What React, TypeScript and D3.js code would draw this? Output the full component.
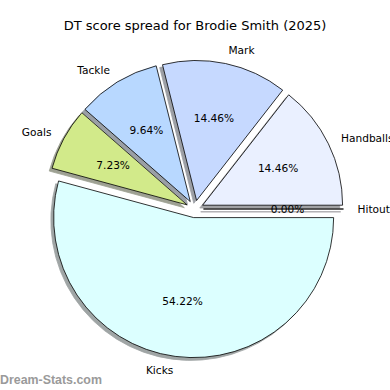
import React from "react";
import * as d3 from "d3";

const categories = ["Hitouts", "Handballs", "Mark", "Tackle", "Goals", "Kicks"];
const values = [0, 12, 12, 8, 6, 45];
const colors = ["#f0e0ff", "#eaf0ff", "#c6d9ff", "#b8d8ff", "#d2ea8a", "#dcffff"];
const title = "DT score spread for Brodie Smith (2025)";
const watermark = "Dream-Stats.com";

const W = 390;
const H = 390;
const CX = 194.8;
const CY = 209;
const R = 140;
const EXPLODE = 0.062;
const SHADOW = 0.02;

function darken(c: string) {
  const rgb = d3.rgb(c);
  return d3.rgb(rgb.r * 0.3, rgb.g * 0.3, rgb.b * 0.3).formatHex();
}

export default function App() {
  const total = d3.sum(values);
  const arc = d3.arc<any>().innerRadius(0).outerRadius(R);
  let cum = 0;
  const slices = values.map((v, i) => {
    const t1 = (cum / total) * 2 * Math.PI;
    cum += v;
    const t2 = (cum / total) * 2 * Math.PI;
    const mid = (t1 + t2) / 2;
    const ox = CX + EXPLODE * R * Math.cos(mid);
    const oy = CY - EXPLODE * R * Math.sin(mid);
    const path = arc({ startAngle: Math.PI / 2 - t2, endAngle: Math.PI / 2 - t1 }) as string;
    const lx = ox + 1.1 * R * Math.cos(mid);
    const ly = oy - 1.1 * R * Math.sin(mid);
    const px = ox + 0.6 * R * Math.cos(mid);
    const py = oy - 0.6 * R * Math.sin(mid);
    return {
      i, v, ox, oy, path, lx, ly, px, py,
      anchor: Math.cos(mid) >= 0 ? "start" : "end",
      pct: ((v / total) * 100).toFixed(2) + "%",
    };
  });

  const font = "DejaVu Sans, sans-serif";
  return (
    <svg width={W} height={H} style={{ position: "absolute", left: 0, top: 0, background: "#fff" }}>
      <rect width={W} height={H} fill="#fff" />
      <text x={W / 2} y={30} textAnchor="middle" fontFamily={font} fontSize={13} fill="#000">
        {title}
      </text>
      {slices.map((s) => (
        <path
          key={"sh" + s.i}
          d={s.path}
          transform={`translate(${s.ox - SHADOW * R},${s.oy + SHADOW * R})`}
          fill={darken(colors[s.i])}
          stroke={darken(colors[s.i])}
          strokeWidth={0.8}
          opacity={0.5}
        />
      ))}
      {slices.map((s) => (
        <path
          key={"w" + s.i}
          d={s.path}
          transform={`translate(${s.ox},${s.oy})`}
          fill={colors[s.i]}
          stroke="#000"
          strokeWidth={0.8}
          strokeLinejoin="round"
        />
      ))}
      {slices.map((s) => (
        <text
          key={"l" + s.i}
          x={s.lx}
          y={s.ly}
          textAnchor={s.anchor}
          dominantBaseline="central"
          fontFamily={font}
          fontSize={10.6}
          fill="#000"
        >
          {categories[s.i]}
        </text>
      ))}
      {slices.map((s) => (
        <text
          key={"p" + s.i}
          x={s.px}
          y={s.py}
          textAnchor="middle"
          dominantBaseline="central"
          fontFamily={font}
          fontSize={10.6}
          fill="#000"
        >
          {s.pct}
        </text>
      ))}
      <text x={0} y={384} fontFamily="Liberation Sans, Arial, sans-serif" fontSize={12.4} fontWeight="bold" fill="#9a9a9a">
        {watermark}
      </text>
    </svg>
  );
}
